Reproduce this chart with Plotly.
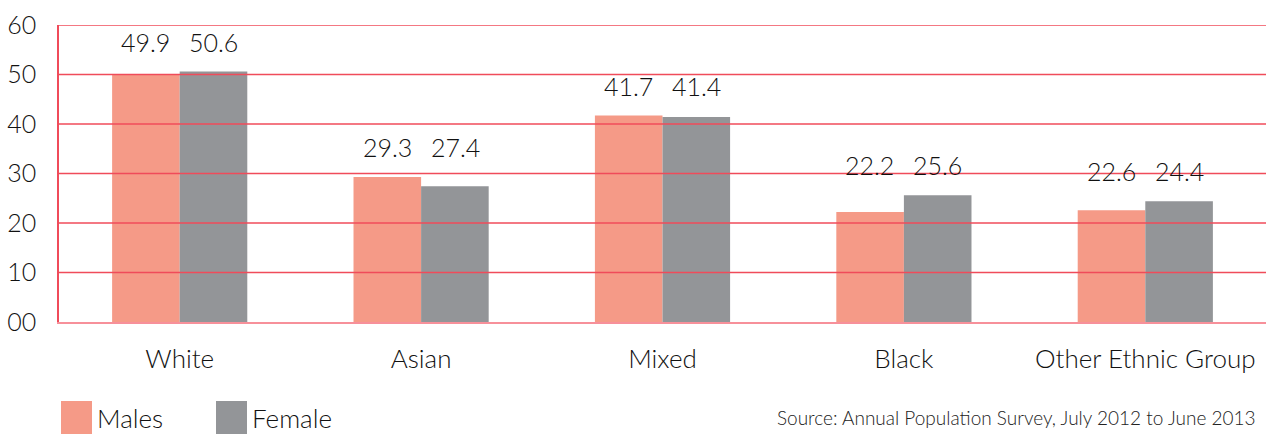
import plotly.graph_objects as go

categories = ["White", "Asian", "Mixed", "Black", "Other Ethnic Group"]
males = [49.9, 29.3, 41.7, 22.2, 22.6]
females = [50.6, 27.4, 41.4, 25.6, 24.4]
tick_vals = [0, 10, 20, 30, 40, 50, 60]
tick_text = ["00", "10", "20", "30", "40", "50", "60"]
series_names = ["Males", "Female"]
series_colors = ["#f59a87", "#939598"]
source = "Source: Annual Population Survey, July 2012 to June 2013"

FONT = "Lato"
W = 300
TXT = "#111111"
GRID = "#f04b5a"
fig = go.Figure()
for name, vals, col in zip(series_names, [males, females], series_colors):
    fig.add_trace(go.Bar(name=name, x=categories, y=vals, showlegend=False, hoverinfo="skip",
                         marker=dict(color=col, line=dict(width=0))))

# value labels
for i, c in enumerate(categories):
    top = max(males[i], females[i])
    for v, xs in ((males[i], -34), (females[i], 34)):
        fig.add_annotation(x=c, y=top, text=f"{v:.1f}", showarrow=False, xshift=xs, yshift=30,
                           font=dict(family=FONT, size=25, color=TXT, weight=W))

# gridlines drawn above bars
for t in tick_vals[1:]:
    fig.add_shape(type="line", xref="paper", yref="y", x0=0, x1=1, y0=t, y1=t,
                  line=dict(color=GRID, width=1.5), layer="above")

# legend (large square keys)
leg_x = [61, 216]
for name, col, lx in zip(series_names, series_colors, leg_x):
    fig.add_shape(type="rect", xref="paper", yref="paper",
                  x0=(lx - 59) / 1207, x1=(lx + 31 - 59) / 1207,
                  y0=-(401 - 322) / 297 - 33 / 297, y1=-(401 - 322) / 297,
                  fillcolor=col, line=dict(width=0))
    fig.add_annotation(x=(lx + 34 - 59) / 1207, y=-(418 - 322) / 297, xref="paper", yref="paper",
                       xanchor="left", yanchor="middle", text=name, showarrow=False,
                       font=dict(family=FONT, size=26, color=TXT, weight=W))

fig.add_annotation(x=(775 - 59) / 1207, y=-(417 - 322) / 297, xref="paper", yref="paper",
                   xanchor="left", yanchor="middle", text=source, showarrow=False,
                   font=dict(family=FONT, size=19, color="#222", weight=W))

fig.update_layout(
    width=1266, height=434,
    margin=dict(l=59, r=0, t=25, b=112, autoexpand=False),
    plot_bgcolor="white", paper_bgcolor="white",
    barmode="group", bargap=0.44, bargroupgap=0,
    font=dict(family=FONT, color=TXT, weight=W),
    showlegend=False,
    xaxis=dict(range=[-0.5, 4.5], showline=True, linecolor="#f7909a", linewidth=2, automargin=False,
               tickfont=dict(size=26, family=FONT, color=TXT, weight=W), ticks="", ticklabelstandoff=13,
               layer="above traces"),
    yaxis=dict(range=[0, 60], tickvals=tick_vals, ticktext=tick_text, showgrid=False, automargin=False,
               showline=True, linecolor=GRID, linewidth=1.5,
               tickfont=dict(size=25, family=FONT, color=TXT, weight=W), ticks="", ticklabelstandoff=16,
               zeroline=False, layer="above traces"),
)
fig.write_html("out.html", config={"displayModeBar": False},
               post_script="document.body.style.margin='0';")
